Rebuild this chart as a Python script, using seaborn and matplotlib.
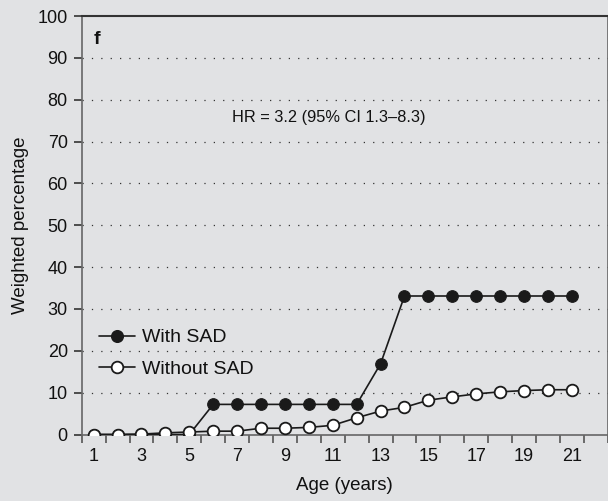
import numpy as np
import pandas as pd
import matplotlib
matplotlib.use("Agg")
import matplotlib.pyplot as plt
from matplotlib.lines import Line2D
import seaborn as sns

# Values
ages = list(range(1, 22))
with_sad = [0, 0, 0, 0, 0, 7.2, 7.2, 7.2, 7.2, 7.2, 7.2, 7.2, 16.9,
            33.1, 33.1, 33.1, 33.1, 33.1, 33.1, 33.1, 33.1]
without_sad = [0, 0, 0.1, 0.4, 0.6, 0.8, 0.8, 1.5, 1.5, 1.7, 2.2, 4.0, 5.6,
               6.5, 8.2, 9.0, 9.7, 10.2, 10.5, 10.7, 10.7]
group_names = ["With SAD", "Without SAD"]
xtick_labels = [str(a) for a in range(1, 22, 2)]
hr_text = "HR = 3.2 (95% CI 1.3\u20138.3)"
panel_label = "f"

df = pd.DataFrame({
    "age": ages * 2,
    "pct": with_sad + without_sad,
    "group": [group_names[0]] * len(ages) + [group_names[1]] * len(ages),
})

bg = "#e1e2e4"
ink = "#1a1a1a"
sns.set_style("white")
plt.rcParams["font.family"] = ["Liberation Sans", "DejaVu Sans"]
plt.rcParams["text.color"] = "#111111"
plt.rcParams["axes.labelcolor"] = "#111111"
plt.rcParams["xtick.labelcolor"] = "#111111"
plt.rcParams["ytick.labelcolor"] = "#111111"

fig = plt.figure(figsize=(6.08, 5.01), dpi=100, facecolor=bg)
ax = fig.add_axes([0.1344, 0.1327, 0.8651, 0.8353], facecolor=bg)

sns.lineplot(data=df, x="age", y="pct", hue="group", style="group",
             palette={group_names[0]: ink, group_names[1]: ink},
             markers={group_names[0]: "o", group_names[1]: "o"},
             dashes=False, linewidth=1.2, markersize=8.4, legend=False, ax=ax)

# filled markers for "with", open markers for "without"
lines = ax.get_lines()
lines[0].set_markerfacecolor(ink)
lines[0].set_markeredgecolor(ink)
lines[1].set_markerfacecolor("white")
lines[1].set_markeredgecolor(ink)
lines[1].set_markeredgewidth(1.3)
lines[0].set_zorder(3)
lines[1].set_zorder(4)

ax.set_xlim(0.5, 22.5)
ax.set_ylim(0, 100)
ax.set_yticks(range(0, 101, 10))
ax.set_xticks(np.arange(0.5, 23, 1))
ax.set_xticklabels([])
ax.set_xticks(range(1, 22, 2), minor=True)
ax.set_xticklabels(xtick_labels, minor=True)
ax.tick_params(axis="x", which="minor", bottom=False, length=0, labelsize=13, pad=10)
ax.tick_params(axis="x", which="major", bottom=True, length=6, width=1.2,
               color="#555555", direction="out")
ax.tick_params(axis="y", left=True, length=6, width=1.2, color="#333333",
               labelsize=13, pad=4, direction="out")

for y in range(10, 100, 10):
    ax.axhline(y, color="#333333", linewidth=0.9, linestyle=(0, (1, 6.5)), zorder=1)

for side in ["left", "bottom", "right"]:
    ax.spines[side].set_color("#666666")
    ax.spines[side].set_linewidth(1.2)
ax.spines["top"].set_color("#333333")
ax.spines["top"].set_linewidth(1.5)

ax.set_xlabel("Age (years)", fontsize=13.5, labelpad=8)
ax.set_ylabel("Weighted percentage", fontsize=13.5, labelpad=6)

ax.text(1.0, 94.3, panel_label, fontsize=14, fontweight="bold", va="center")
ax.text(10.85, 75.8, hr_text, fontsize=11.8, ha="center", va="center")

handles = [
    Line2D([], [], color=ink, marker="o", markersize=8.4, linewidth=1.2,
           markerfacecolor=ink),
    Line2D([], [], color=ink, marker="o", markersize=8.4, linewidth=1.2,
           markerfacecolor="white", markeredgewidth=1.3),
]
ax.legend(handles, group_names, loc="upper left", bbox_to_anchor=(0.0076, 0.285),
          frameon=False, fontsize=14, handlelength=1.85, handletextpad=0.36,
          labelspacing=0.7, borderaxespad=0.3)

fig.savefig("out.png", dpi=100, facecolor=bg)
